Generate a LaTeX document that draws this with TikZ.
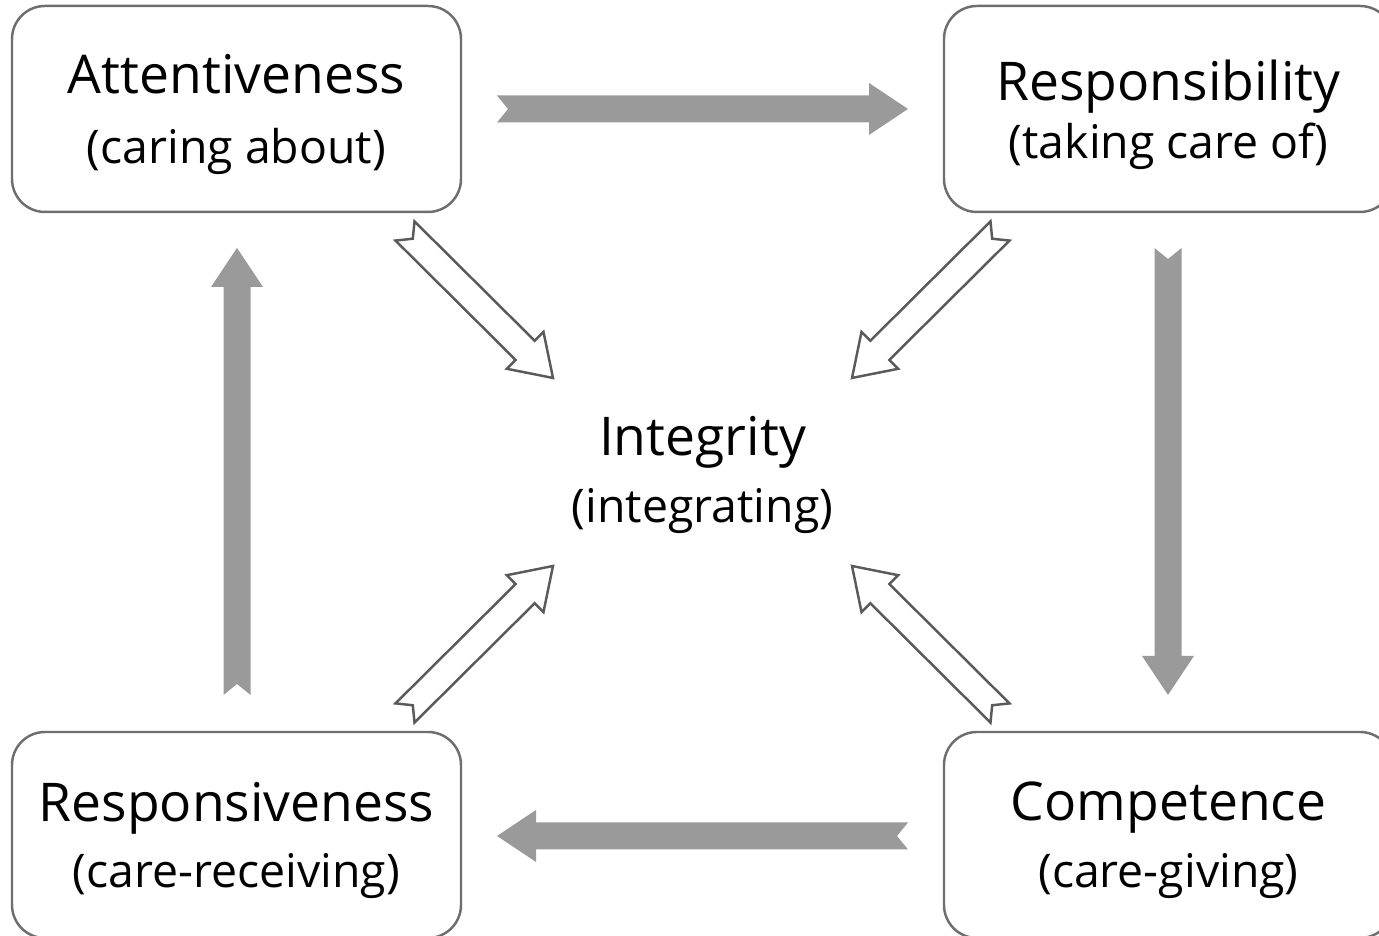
\documentclass[tikz,border=0pt]{standalone}
\usepackage{fontspec}
\setmainfont{Open Sans}
\usetikzlibrary{calc}
\definecolor{boxline}{HTML}{6E6E6E}
\definecolor{flowgray}{HTML}{9A9A9A}
\definecolor{hollowline}{HTML}{5A5A5A}
\def\shaftw{1.35mm}
\def\headw{2.6mm}
\def\headl{3.9mm}
\def\notchd{1.1mm}
\def\mainsize{\fontsize{15.2}{19}\selectfont}
\def\subsize{\fontsize{13.2}{19}\selectfont}

% block arrow with a notched tail: #1 style, #2 tail, #3 tip
\newcommand{\flowarrow}[3]{%
  \path[#1] let \p1=($(#3)-(#2)$), \n1={atan2(\y1,\x1)}, \n2={veclen(\x1,\y1)-\headl} in
    ($(#2)+(\n1:\notchd)$) -- ($(#2)+(\n1+90:\shaftw)$)
    -- ($(#2)+(\n1:\n2)+(\n1+90:\shaftw)$) -- ($(#2)+(\n1:\n2)+(\n1+90:\headw)$)
    -- (#3)
    -- ($(#2)+(\n1:\n2)+(\n1-90:\headw)$) -- ($(#2)+(\n1:\n2)+(\n1-90:\shaftw)$)
    -- ($(#2)+(\n1-90:\shaftw)$) -- cycle;}

\begin{document}
\begin{tikzpicture}
        \tikzstyle{care}=[draw=boxline,line width=0.7pt,rounded corners=0.33cm,
            minimum width=4.49cm,minimum height=2.06cm,align=center,font=\subsize,
            text depth=0pt]
        \tikzstyle{cycle arrow}=[fill=flowgray]
        \tikzstyle{core arrow}=[draw=hollowline,fill=white,line width=0.7pt,line join=miter]

        \useasboundingbox (0,0) rectangle (13.79,9.36);
        \clip (0,0) rectangle (13.79,9.36);

        % Draw the four phases of care
        \node[care] (att) at (2.365,8.27) {{\mainsize Attentiveness}\\[1pt](caring about)};
        \node[care] (resp) at (11.685,8.27) {{\mainsize Responsibility}\\[-2.5pt](taking care of)};
        \node[care] (comp) at (11.685,1.01) {{\mainsize Competence}\\(care-giving)};
        \node[care] (recv) at (2.365,1.01) {{\mainsize Responsiveness}\\(care-receiving)};

        % The integrating centre
        \node[align=center,font=\subsize] (integ) at (7.025,4.61) {{\mainsize Integrity}\\(integrating)};

        % Ends of the block arrows
        \coordinate (att-out) at (4.97,8.27);
        \coordinate (resp-in) at (9.08,8.27);
        \coordinate (resp-out) at (11.68,6.88);
        \coordinate (comp-in) at (11.68,2.41);
        \coordinate (comp-out) at (9.08,1.00);
        \coordinate (recv-in) at (4.97,1.00);
        \coordinate (recv-out) at (2.37,2.41);
        \coordinate (att-in) at (2.37,6.88);

        \coordinate (att-c) at (4.05,7.05);
        \coordinate (resp-c) at (10.00,7.05);
        \coordinate (comp-c) at (10.00,2.23);
        \coordinate (recv-c) at (4.05,2.23);
        \coordinate (integ-tl) at (5.53,5.58);
        \coordinate (integ-tr) at (8.52,5.58);
        \coordinate (integ-br) at (8.52,3.70);
        \coordinate (integ-bl) at (5.53,3.70);

        % The cycle of care
        \flowarrow{cycle arrow}{att-out}{resp-in}
        \flowarrow{cycle arrow}{resp-out}{comp-in}
        \flowarrow{cycle arrow}{comp-out}{recv-in}
        \flowarrow{cycle arrow}{recv-out}{att-in}

        % Every phase feeds integrity
        \flowarrow{core arrow}{att-c}{integ-tl}
        \flowarrow{core arrow}{resp-c}{integ-tr}
        \flowarrow{core arrow}{comp-c}{integ-br}
        \flowarrow{core arrow}{recv-c}{integ-bl}
\end{tikzpicture}
\end{document}
